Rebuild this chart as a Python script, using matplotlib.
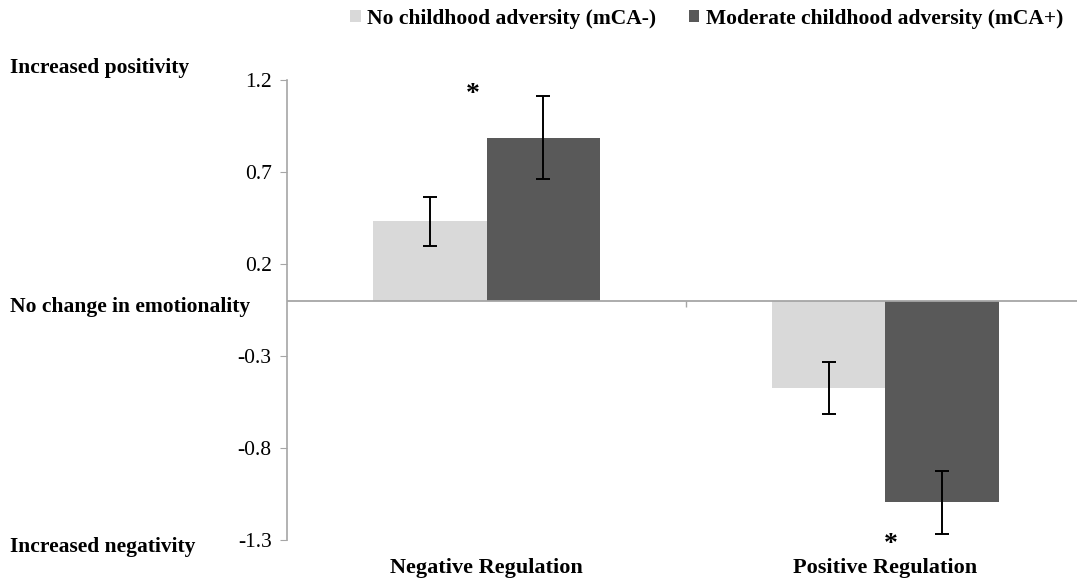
import matplotlib.pyplot as plt
import numpy as np

# values
categories = ["Negative Regulation", "Positive Regulation"]
groups = ["No childhood adversity (mCA-)", "Moderate childhood adversity (mCA+)"]
no_adversity = [0.43, -0.475]
no_adversity_err = [0.135, 0.142]
moderate_adversity = [0.885, -1.095]
moderate_adversity_err = [0.225, 0.17]
y_ticks = [-1.3, -0.8, -0.3, 0.2, 0.7, 1.2]
# significance markers (category index, y)
stars = [(0, 1.12), (1, -1.325)]

plt.rcParams['font.family'] = ['Liberation Serif', 'DejaVu Serif']

fig = plt.figure(figsize=(10.77, 5.79), dpi=100)
ax = fig.add_axes([0.2665, 0.0674, 0.7335, 0.795])

x = np.arange(len(categories))
w = 0.284
ax.bar(x - w / 2, no_adversity, w, color="#d9d9d9", label=groups[0])
ax.bar(x + w / 2, moderate_adversity, w, color="#595959", label=groups[1])
ax.errorbar(x - w / 2, no_adversity, yerr=no_adversity_err, fmt="none",
            ecolor="black", elinewidth=1.4, capsize=5, capthick=1.4)
ax.errorbar(x + w / 2, moderate_adversity, yerr=moderate_adversity_err, fmt="none",
            ecolor="black", elinewidth=1.4, capsize=5, capthick=1.4)

for i, yv in stars:
    ax.text(i - 0.035 + 0.048 * i, yv, "*", ha="center", va="center",
            fontsize=20, fontweight="bold", clip_on=False)

ax.set_xlim(-0.5, 1.48)
ax.set_ylim(-1.3, 1.2)
ax.axhline(0, color="#a6a6a6", lw=1.3)
ax.vlines(0.5, -0.035, 0, color="#a6a6a6", lw=1)

ax.set_yticks(y_ticks)
ax.set_yticklabels([f"{t:.1f}" for t in y_ticks])
ax.tick_params(axis="y", length=5, color="#a6a6a6", labelsize=15.5, pad=6)
ax.set_xticks(x)
ax.set_xticklabels(categories, fontweight="bold", fontsize=16)
ax.tick_params(axis="x", length=0, pad=13)

for s in ["top", "right", "bottom"]:
    ax.spines[s].set_visible(False)
ax.spines["left"].set_color("#a6a6a6")
ax.spines["left"].set_linewidth(1.2)

# side annotations
fig.text(0.009, 0.882, "Increased positivity", fontsize=15.5, fontweight="bold", va="center")
fig.text(0.009, 0.47, "No change in emotionality", fontsize=15.5, fontweight="bold", va="center")
fig.text(0.009, 0.055, "Increased negativity", fontsize=15.5, fontweight="bold", va="center")

fig.legend(loc="center", bbox_to_anchor=(0.656, 0.968), ncol=2, frameon=False,
           prop={"weight": "bold", "size": 15.5}, handlelength=0.5, handleheight=0.5,
           handletextpad=0.3, columnspacing=1.5)

fig.savefig("out.png", dpi=100)
